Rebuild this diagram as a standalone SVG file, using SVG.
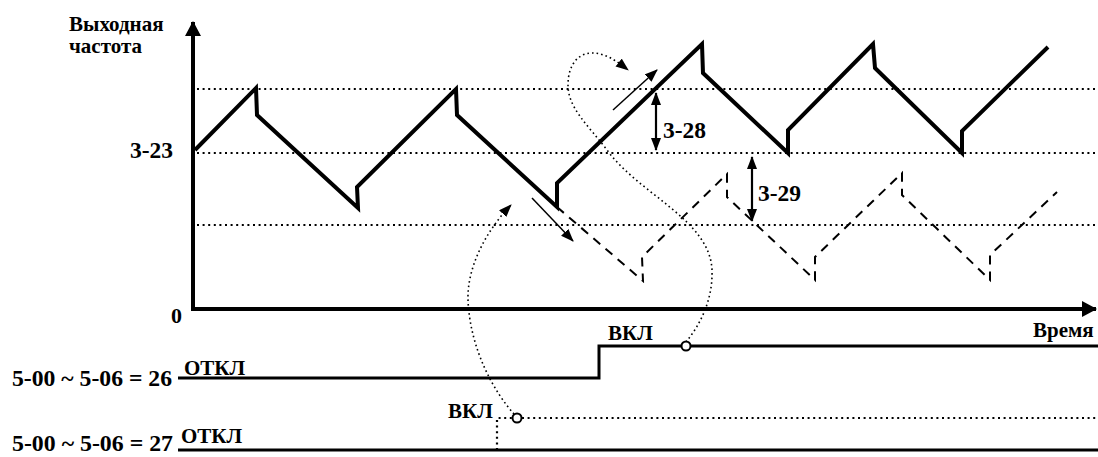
<svg xmlns="http://www.w3.org/2000/svg" width="1098" height="457" viewBox="0 0 1098 457">
<style>
text{font-family:'Liberation Serif','DejaVu Serif',serif;font-weight:700;font-size:21px;fill:#000}
text.num{font-size:23.5px}
.axis{stroke:#000;stroke-width:4;fill:none}
.wave{stroke:#000;stroke-width:4;fill:none;stroke-linejoin:miter}
.dash{stroke:#000;stroke-width:2;fill:none;stroke-dasharray:9 7}
.grid{stroke:#000;stroke-width:2.2;fill:none;stroke-dasharray:2 3.6}
.sig{stroke:#000;stroke-width:3;fill:none}
.curve{stroke:#000;stroke-width:1.6;fill:none;stroke-dasharray:1.6 3}
.thin{stroke:#000;stroke-width:1.5;fill:none}
.dim{stroke:#000;stroke-width:2.2;fill:none}
.ring{stroke:#000;stroke-width:2;fill:#fff}
</style>
<defs>
<marker id="ah" markerUnits="userSpaceOnUse" markerWidth="14" markerHeight="12" refX="12" refY="5" orient="auto">
<path d="M0,0 L13,5 L0,10 z" fill="#000"/>
</marker>
<marker id="ahs" markerUnits="userSpaceOnUse" markerWidth="14" markerHeight="12" refX="12" refY="5" orient="auto-start-reverse">
<path d="M0,0 L13,5 L0,10 z" fill="#000"/>
</marker>
<marker id="big" markerUnits="userSpaceOnUse" markerWidth="16" markerHeight="18" refX="14" refY="8" orient="auto">
<path d="M0,0 L15,8 L0,16 z" fill="#000"/>
</marker>
</defs>

<g id="grid">
<line class="grid" x1="197" y1="89" x2="1098" y2="89"/>
<line class="grid" x1="197" y1="153" x2="1098" y2="153"/>
<line class="grid" x1="197" y1="225" x2="1098" y2="225"/>
</g>

<g id="axes">
<line class="axis" x1="193" y1="311" x2="193" y2="22" marker-end="url(#big)"/>
<line class="axis" x1="191" y1="309" x2="1096" y2="309" marker-end="url(#big)"/>
</g>

<g id="wave-solid">
<polyline class="wave" points="195,150 256,88 257,115 358,208 357,187 456,89 457,115 557,207 557,183 702,44 703,73 788,153 788,130 873,44 875,68 962,153 962,131 1048,47"/>
</g>
<g id="wave-dashed">
<polyline class="dash" points="557,207 643,281 642,257 727,174 727,197 815,280 815,257 902,173 902,195 990,280 990,255 1057,192"/>
</g>

<g id="signals">
<polyline class="sig" points="178,378 599,378 599,346 1098,346"/>
<line class="sig" x1="178" y1="450" x2="1098" y2="450"/>
<line class="grid" x1="522" y1="418" x2="1098" y2="418"/>
<polyline class="grid" points="497,450 497,418 512,418"/>
</g>

<g id="connectors">
<path class="curve" d="M686,342 C700,325 713,300 712,270 C710,220 640,195 607,150 C588,125 568,108 568,85 C568,65 578,53 592,53 C606,53 618,62 628,70" marker-end="url(#ah)"/>
<path class="curve" d="M514,414 C495,393 470,350 468,300 C467,268 485,232 511,205" marker-end="url(#ah)"/>
<line class="thin" x1="532" y1="198" x2="573" y2="241" marker-end="url(#ah)"/>
<line class="thin" x1="613" y1="110" x2="657" y2="70" marker-end="url(#ah)"/>
<line class="dim" x1="656" y1="93" x2="656" y2="150" marker-start="url(#ahs)" marker-end="url(#ah)"/>
<line class="dim" x1="752" y1="157" x2="752" y2="221" marker-start="url(#ahs)" marker-end="url(#ah)"/>
</g>

<g id="rings">
<circle class="ring" cx="686" cy="346" r="4.5"/>
<circle class="ring" cx="517" cy="418" r="4.5"/>
</g>

<g id="labels">
<text x="69" y="31">Выходная</text>
<text x="69" y="53">частота</text>
<text class="num" x="130" y="158">3-23</text>
<text x="171" y="323" style="font-size:22px">0</text>
<text class="num" x="663" y="138">3-28</text>
<text class="num" x="758" y="201">3-29</text>
<text x="1033" y="337">Время</text>
<text x="608" y="340">ВКЛ</text>
<text x="448" y="418">ВКЛ</text>
<text class="num" x="12" y="386" textLength="160" lengthAdjust="spacingAndGlyphs">5-00 ~ 5-06 = 26</text>
<text x="184" y="375">ОТКЛ</text>
<text class="num" x="12" y="451" textLength="161" lengthAdjust="spacingAndGlyphs">5-00 ~ 5-06 = 27</text>
<text x="181" y="443">ОТКЛ</text>
</g>
</svg>
